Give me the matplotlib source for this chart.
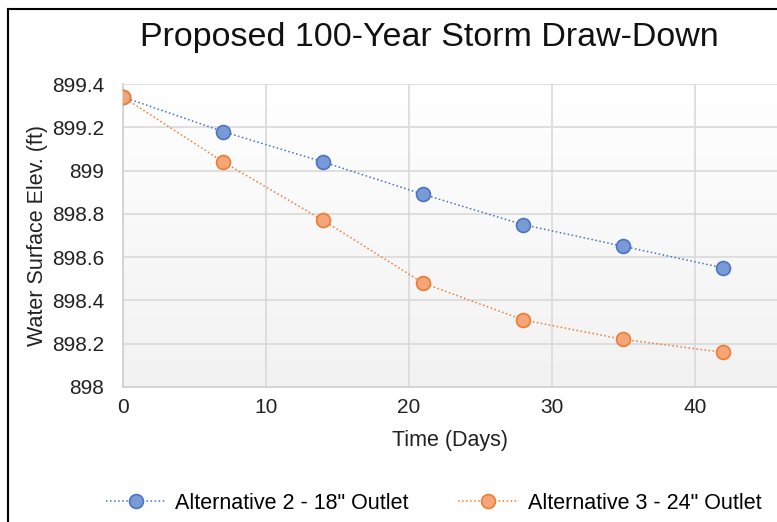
import matplotlib
matplotlib.use("Agg")
import matplotlib.pyplot as plt
import numpy as np
from matplotlib.ticker import FuncFormatter
from matplotlib.lines import Line2D

plt.rcParams['font.family'] = ['Liberation Sans', 'DejaVu Sans']

# Data
days = [0, 7, 14, 21, 28, 35, 42]
alt2_elev = [899.34, 899.18, 899.04, 898.89, 898.75, 898.65, 898.55]
alt3_elev = [899.34, 899.04, 898.77, 898.48, 898.31, 898.22, 898.16]
labels = ['Alternative 2 - 18" Outlet', 'Alternative 3 - 24" Outlet']

fig = plt.figure(figsize=(7.77, 5.22), dpi=100)
ax = fig.add_axes([123 / 777, 1 - 387 / 522, 1 - 123 / 777, (387 - 84) / 522])

# Gradient background (white top -> light grey bottom)
grad = np.linspace(1.0, 0.0, 256).reshape(-1, 1)
ax.imshow(grad, extent=[0, 1, 0, 1], transform=ax.transAxes, aspect='auto',
          cmap=matplotlib.colors.LinearSegmentedColormap.from_list('g', ['#f2f2f2', '#ffffff']),
          zorder=0)

ax.plot(days, alt2_elev, linestyle=':', color='#4472c4', linewidth=1.1,
        marker='o', markersize=10, markerfacecolor='#7a9ad6', markeredgecolor='#4a74c4',
        markeredgewidth=1.2, label=labels[0], zorder=3)
ax.plot(days, alt3_elev, linestyle=':', color='#ed7d31', linewidth=1.1,
        marker='o', markersize=10, markerfacecolor='#f4a57a', markeredgecolor='#ed7d31',
        markeredgewidth=1.2, label=labels[1], zorder=3)

ax.set_xlim(0, 45.75)
ax.set_ylim(898, 899.4)
ax.set_xticks([0, 10, 20, 30, 40])
ax.set_yticks(np.arange(898, 899.41, 0.2))
ax.yaxis.set_major_formatter(FuncFormatter(lambda v, p: '%g' % round(v, 1)))
ax.grid(True, color='#d9d9d9', linewidth=1.2)
ax.set_axisbelow(True)
for s in ['top', 'right']:
    ax.spines[s].set_visible(False)
for s in ['left', 'bottom']:
    ax.spines[s].set_color('#d0d0d0')
    ax.spines[s].set_linewidth(1.2)
ax.tick_params(length=0, labelsize=15, colors='#222222')
ax.tick_params(axis='y', pad=13.5)
ax.tick_params(axis='x', pad=8)

ax.set_xlabel('Time (Days)', fontsize=15.5, color='#222222', labelpad=9)
ax.set_ylabel('Water Surface Elev. (ft)', fontsize=15.5, color='#222222', labelpad=3)
fig.text(0.553, 0.928, 'Proposed 100-Year Storm Draw-Down', ha='center', va='center',
         fontsize=24.5, color='#111111')

fig.legend(loc='center', bbox_to_anchor=(0.558, 0.036), ncol=2, frameon=False,
           fontsize=15.5, handlelength=2.8, handletextpad=0.42, columnspacing=2.3)

# Outer border (left and top visible)
fig.add_artist(Line2D([8 / 777, 8 / 777], [0, 1 - 9 / 522], color='black', linewidth=1.5,
                      transform=fig.transFigure))
fig.add_artist(Line2D([8 / 777, 1], [1 - 9 / 522, 1 - 9 / 522], color='black', linewidth=1.5,
                      transform=fig.transFigure))

fig.savefig('out.png', dpi=100)
